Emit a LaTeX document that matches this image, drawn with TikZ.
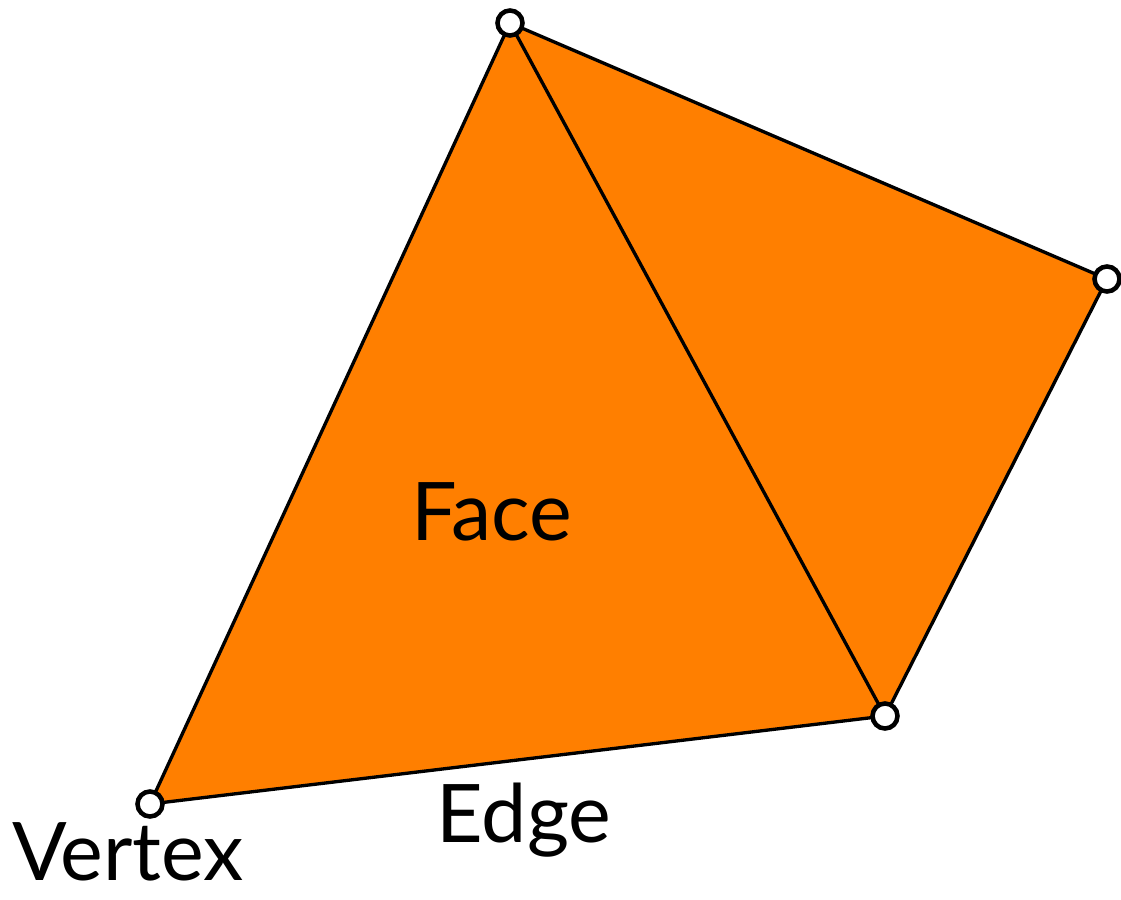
\documentclass[tikz,border=0pt]{standalone}
\usepackage{fontspec}
\setmainfont{Lato}
\usetikzlibrary{positioning}
\definecolor{faceorange}{HTML}{FF7F00}

\begin{document}
\begin{tikzpicture}[
        x=0.02cm, y=-0.02cm,
        % Estilos dos vertices e arestas
        vert/.style={circle, draw=black, fill=white, line width=2.6pt, minimum size=0.5cm, inner sep=0pt},
        edgeline/.style={draw=black, line width=1.9pt},
        facefill/.style={fill=faceorange},
        % Estilo dos rotulos
        lbl/.style={font=\fontsize{46}{48}\selectfont, text=black, inner sep=0pt, anchor=base}
    ]
    \useasboundingbox (0,0) rectangle (1121,899);

    % Vertices
    \coordinate (top) at (510,23);
    \coordinate (right) at (1107,279);
    \coordinate (low) at (885,716);
    \coordinate (left) at (150,804);

    % Faces
    \fill[facefill] (top) -- (right) -- (low) -- (left) -- cycle;

    % Arestas
    \draw[edgeline] (top) -- (right) -- (low) -- (left) -- cycle;
    \draw[edgeline] (top) -- (low);

    % Circulos dos vertices por cima
    \node[vert] (vtop) at (top) {};
    \node[vert] (vright) at (right) {};
    \node[vert] (vlow) at (low) {};
    \node[vert] (vleft) at (left) {};

    % Rotulos
    \node[lbl] (facelbl) at (492,540) {Face};
    \node[lbl] (edgelbl) at (524,842) {Edge};
    \node[lbl] (vertlbl) at (128,880) {Vertex};
\end{tikzpicture}
\end{document}
